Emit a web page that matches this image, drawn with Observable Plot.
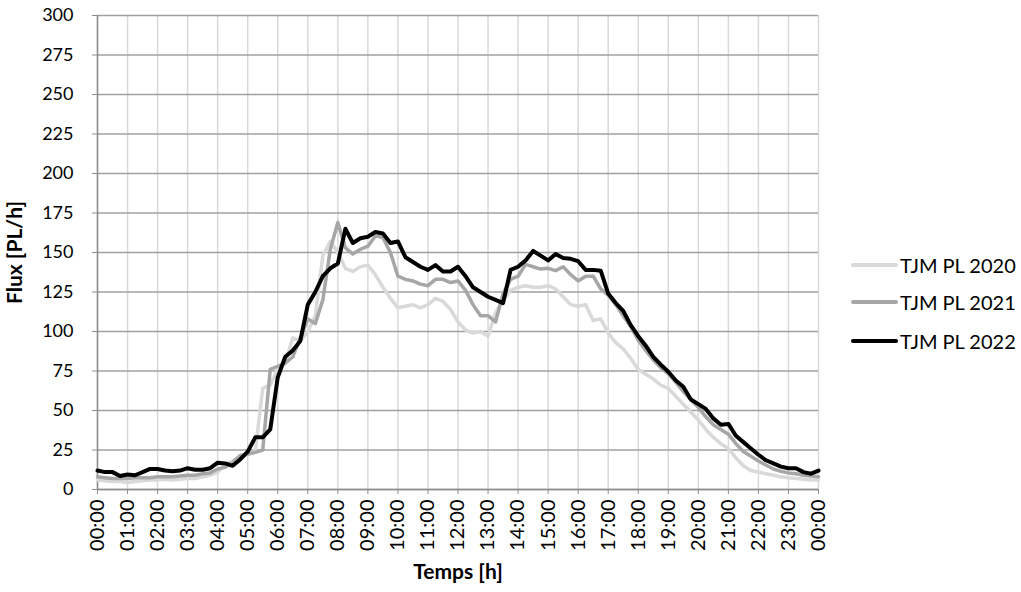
<!DOCTYPE html>
<html><head><meta charset="utf-8">
<script src="https://cdn.jsdelivr.net/npm/d3@7"></script>
<script src="https://cdn.jsdelivr.net/npm/@observablehq/plot@0.6"></script>
<style>
body{margin:0;background:#fff;}
#chart{position:relative;width:1021px;height:592px;font-family:Lato,"Liberation Sans",sans-serif;}
.leg{position:absolute;left:851px;display:flex;align-items:center;font-size:20px;color:#000;}
.leg span.sw{display:inline-block;width:47px;border-radius:2px;margin-right:2px;}
</style></head><body><div id="chart"></div>
<script>
// hours of the x axis and their labels
const hourTicks = [0,1,2,3,4,5,6,7,8,9,10,11,12,13,14,15,16,17,18,19,20,21,22,23,24];
const tickLabels = ["00:00","01:00","02:00","03:00","04:00","05:00","06:00","07:00","08:00","09:00","10:00","11:00","12:00","13:00","14:00","15:00","16:00","17:00","18:00","19:00","20:00","21:00","22:00","23:00","00:00"];
const yTicks = [0,25,50,75,100,125,150,175,200,225,250,275,300];
const series = ["TJM PL 2020","TJM PL 2021","TJM PL 2022"];
const colors = ["#d9d9d9","#a6a6a6","#000000"];
const widths = [3.5,3.5,4];
const sampleStep = 0.25; // hours between samples (15 min)

// values every 15 minutes, 00:00 -> 24:00
const v2020 = [
  6,5.5,5,5,   4.5,5,5.5,6,   6,6.5,6,6.5,   7,7,8,9,
  11,16,18,21, 22,24,64,66,   76,80,96,94,   100,110,148,157,
  150,140,138,141, 142,136,128,121, 115,116,117,115, 117,121,119,114,
  106,101,99,100, 97,112,120,126, 128,129,128,128, 129,127,122,117,
  116,117,107,108, 99,93,89,83, 76,73,70,66, 64,59,54,49,
  44,38,33,29, 26,20,15,12, 11,10,9,8, 7.5,7,6.5,6, 6];
const v2021 = [
  8,7.5,7,7,   7,7.5,7.5,7.5, 8,8,8,8.5,   9,9,10,10.5,
  13,14,17,21.5, 22.5,23.5,25,76, 78,80,84,96, 108,105,120,152,
  169,153,149,152, 154,160.5,159.5,150, 135,133,132,130, 129,133,133,131,
  132,126,117,110, 110,106,124,133, 135,142.5,141,139.5, 140,138.5,141,136,
  132,135,135,127, 123,117,110,103, 94.5,88,82,77, 73.4,68,62,57,
  52,46,41,38, 35,29,24,21, 18,15.5,13,11.5, 10.5,10,9,8.5, 8];
const v2022 = [
  12,11,11,8.5, 9.5,9,11,13, 13,12,11.5,12, 13.5,12.5,12.5,13.5,
  17,16.5,15,19, 24,33,33,38, 71,84,88,94, 117,125,135,140,
  143,165,156,159, 160,163,162,156, 157,147,144,141, 139,142,138,138,
  141,135,128,125, 122,120,118,139, 141,145,151,148, 145,149,146.5,146,
  144.5,139,139,138.5, 124,118,113,104, 97,91,84,79, 74.5,69,65,57,
  54,51,45,41, 41.5,34,30,26, 22,18.5,16.5,14.5, 13.5,13.5,11,10, 12];
const allValues = [v2020, v2021, v2022];

const rows = allValues.map((vals, k) => vals.map((v, i) => ({t: i * sampleStep, v, s: series[k]})));

const plot = Plot.plot({
  width: 1021, height: 592,
  marginLeft: 97, marginRight: 203, marginTop: 15, marginBottom: 103,
  style: {fontFamily: "Lato, 'Liberation Sans', sans-serif", fontSize: "18px", color: "#000", background: "#fff", overflow: "visible"},
  x: {domain: [0, 24]},
  y: {domain: [0, 300]},
  marks: [
    Plot.gridX(hourTicks, {stroke: "#d9d9d9", strokeOpacity: 1, strokeWidth: 1.5}),
    Plot.gridY(yTicks, {stroke: "#a0a0a0", strokeOpacity: 1, strokeWidth: 1.5}),
    Plot.axisY(yTicks, {tickSize: 5, tickPadding: 19, stroke: "#8c8c8c", label: null, fontSize: 18, tickFormat: d => String(d)}),
    Plot.axisX(hourTicks, {tickSize: 5, tickPadding: 5, tickRotate: -90, stroke: "#8c8c8c", label: null, fontSize: 20, tickFormat: d => tickLabels[d]}),
    Plot.ruleX([0], {stroke: "#8c8c8c", strokeWidth: 1.5}),
    Plot.ruleY([0], {stroke: "#8c8c8c", strokeWidth: 1.5}),
    ...rows.map((r, k) => Plot.line(r, {x: "t", y: "v", stroke: colors[k], strokeWidth: widths[k], strokeLinejoin: "round"})),
    Plot.text(["Flux [PL/h]"], {frameAnchor: "left", textAnchor: "middle", dx: -82, rotate: -90, fontWeight: "bold", fontSize: 21, text: d => d}),
    Plot.text(["Temps [h]"], {frameAnchor: "bottom", textAnchor: "middle", dy: 89, fontWeight: "bold", fontSize: 21, text: d => d})
  ]
});
const chart = document.getElementById("chart");
chart.appendChild(plot);

const legendY = [265, 302, 341];
series.forEach((name, k) => {
  const d = document.createElement("div");
  d.className = "leg";
  d.style.top = (legendY[k] - 12) + "px";
  d.style.height = "24px";
  d.innerHTML = `<span class="sw" style="height:${widths[k]}px;background:${colors[k]}"></span>${name}`;
  chart.appendChild(d);
});
</script>
</body></html>
